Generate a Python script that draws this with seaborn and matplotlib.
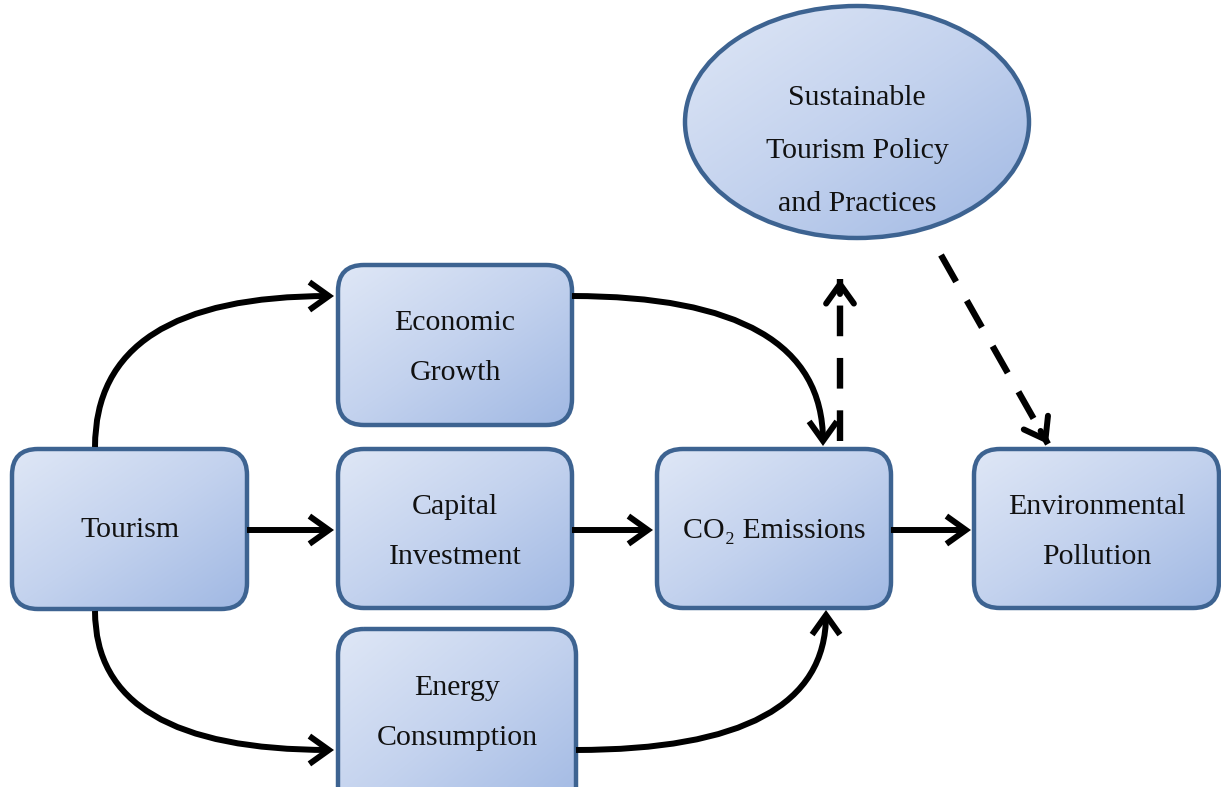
import numpy as np
import matplotlib
matplotlib.use("Agg")
import matplotlib.pyplot as plt
from matplotlib.patches import FancyBboxPatch, Ellipse, FancyArrowPatch
import seaborn as sns

# node labels
box_names = ["Tourism", "Economic Growth", "Capital Investment", "Energy Consumption",
             "CO2 Emissions", "Environmental Pollution"]
box_labels = ["Tourism", "Economic\nGrowth", "Capital\nInvestment", "Energy\nConsumption",
              "CO\u2082 Emissions", "Environmental\nPollution"]
policy_label = "Sustainable\nTourism Policy\nand Practices"

# links (solid = direct effect, dashed = policy feedback)
solid_links = [("Tourism", "Economic Growth"), ("Tourism", "Energy Consumption"),
               ("Tourism", "Capital Investment"), ("Capital Investment", "CO2 Emissions"),
               ("CO2 Emissions", "Environmental Pollution"), ("Economic Growth", "CO2 Emissions"),
               ("Energy Consumption", "CO2 Emissions")]
dashed_links = [("CO2 Emissions", "Policy"), ("Policy", "Environmental Pollution")]

sns.set_theme(style="white")
plt.rcParams['font.family'] = ['Liberation Serif', 'DejaVu Serif']

W, H = 1221, 787
fig = plt.figure(figsize=(W / 100, H / 100), dpi=100)
ax = fig.add_axes([0, 0, 1, 1])

cmap = sns.blend_palette(["#dfe7f6", "#c3d2ee", "#a0b8e3"], as_cmap=True)
edge = "#3d6391"

# layout in pixel space (x0, y0, x1, y1)
layout = {
    "Tourism": (12, 449, 247, 609),
    "Economic Growth": (338, 265, 572, 425),
    "Capital Investment": (338, 449, 572, 608),
    "Energy Consumption": (338, 629, 576, 820),
    "CO2 Emissions": (657, 449, 891, 608),
    "Environmental Pollution": (974, 449, 1219, 608),
}
text_pos = {
    "Tourism": (130, 530), "Economic Growth": (455, 348), "Capital Investment": (455, 532),
    "Energy Consumption": (457, 713), "CO2 Emissions": (774, 531),
    "Environmental Pollution": (1097, 532),
}


def gradient_fill(patch, x0, y0, x1, y1):
    u = np.linspace(0, 1, 200)
    g = (u[None, :] + u[:, None]) / 2
    im = ax.imshow(g, extent=(x0, x1, y1, y0), cmap=cmap, aspect='auto',
                   interpolation='bilinear', zorder=2)
    im.set_clip_path(patch)


for name, label in zip(box_names, box_labels):
    x0, y0, x1, y1 = layout[name]
    p = FancyBboxPatch((x0, y0), x1 - x0, y1 - y0,
                       boxstyle="round,pad=0,rounding_size=26",
                       facecolor="none", edgecolor=edge, linewidth=3.2, zorder=3)
    ax.add_patch(p)
    gradient_fill(p, x0, y0, x1, y1)
    tx, ty = text_pos[name]
    ax.text(tx, ty, label, ha='center', va='center', fontsize=21.5,
            linespacing=2.22, color="#111111", zorder=4)

# policy ellipse
ell = Ellipse((857, 122), 344, 232, facecolor="none", edgecolor=edge,
              linewidth=3.2, zorder=3)
ax.add_patch(ell)
gradient_fill(ell, 685, 6, 1029, 238)
ax.text(857, 151, policy_label, ha='center', va='center', fontsize=21.5,
        linespacing=2.35, color="#111111", zorder=4)

# arrow geometry
solid_geom = {
    ("Tourism", "Economic Growth"): ((95, 447), (334, 296), "angle3,angleA=90,angleB=0"),
    ("Tourism", "Energy Consumption"): ((95, 611), (334, 750), "angle3,angleA=90,angleB=0"),
    ("Tourism", "Capital Investment"): ((247, 530), (334, 530), "arc3,rad=0"),
    ("Capital Investment", "CO2 Emissions"): ((572, 530), (653, 530), "arc3,rad=0"),
    ("CO2 Emissions", "Environmental Pollution"): ((891, 530), (971, 530), "arc3,rad=0"),
    ("Economic Growth", "CO2 Emissions"): ((572, 296), (823, 446), "angle3,angleA=0,angleB=90"),
    ("Energy Consumption", "CO2 Emissions"): ((576, 750), (826, 610), "angle3,angleA=0,angleB=90"),
}
astyle = "->,head_length=1.4,head_width=1.0"
for link in solid_links:
    (xa, ya), (xb, yb), cs = solid_geom[link]
    ar = FancyArrowPatch((xa, ya), (xb, yb), connectionstyle=cs, arrowstyle=astyle,
                         mutation_scale=10, linewidth=4.3, color="black",
                         shrinkA=0, shrinkB=0, zorder=5, capstyle='butt', joinstyle='miter')
    ax.add_patch(ar)

dashed_geom = {
    ("CO2 Emissions", "Policy"): ((840, 441), (840, 279)),
    ("Policy", "Environmental Pollution"): ((941, 255), (1048, 444)),
}
for link in dashed_links:
    (xa, ya), (xb, yb) = dashed_geom[link]
    ax.plot([xa, xb], [ya, yb], color="black", linewidth=4.6,
            dashes=(4.8, 3.4), solid_capstyle='butt', dash_capstyle='butt', zorder=5)
    d = np.hypot(xb - xa, yb - ya)
    ux, uy = (xb - xa) / d, (yb - ya) / d
    ar = FancyArrowPatch((xb - 15 * ux, yb - 15 * uy), (xb, yb), arrowstyle=astyle,
                         mutation_scale=10, linewidth=4.3, color="black",
                         shrinkA=0, shrinkB=0, zorder=5)
    ax.add_patch(ar)

ax.set_xlim(0, W)
ax.set_ylim(H, 0)
ax.axis('off')
fig.savefig("out.png", dpi=100, facecolor="white")
